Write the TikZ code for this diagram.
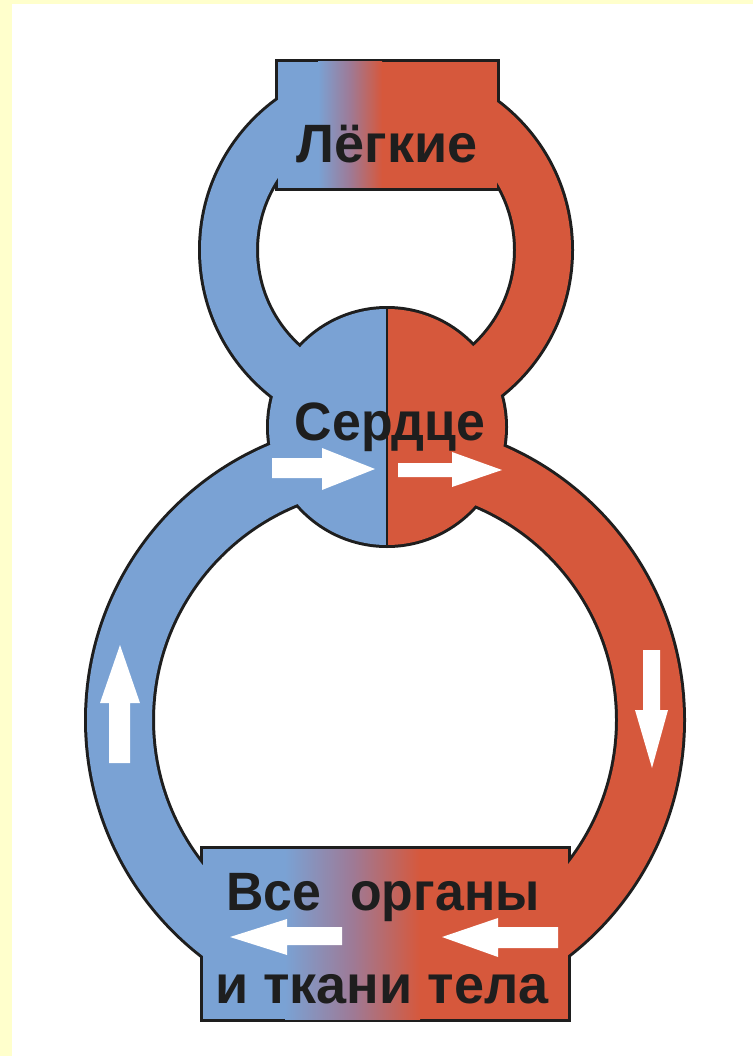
\documentclass[tikz,border=0pt]{standalone}
\usepackage{fontspec}
\setmainfont{Liberation Sans}
\definecolor{bl}{RGB}{122,162,212}
\definecolor{rd}{RGB}{214,88,60}
\definecolor{midc}{RGB}{158,122,150}
\definecolor{yel}{RGB}{255,255,204}
\definecolor{ink}{RGB}{30,30,30}
\tikzset{
  outline/.style={draw=ink, line width=6pt},
  lbl/.style={anchor=base, inner sep=0pt, text=ink, font=\bfseries\fontsize{54}{60}\selectfont},
  flowarrow/.style={fill=white, draw=none}
}
\begin{document}
\begin{tikzpicture}[x=1pt,y=-1pt]
\useasboundingbox (0,0) rectangle (753,1056);
\fill[white] (0,0) rectangle (753,1056);
\fill[yel] (0,0) rectangle (753,4);
\fill[yel] (0,0) rectangle (12,1056);

% outlines (outer halves remain visible)
\draw[outline] (278,62) rectangle (497,188);
\draw[outline] (386,250) circle[radius=185pt];
\draw[outline] (386,250) circle[radius=130pt];
\draw[outline] (387,427) circle[radius=118pt];
\draw[outline] (385,720) circle[radius=298pt];
\draw[outline] (385,720) circle[radius=233pt];
\draw[outline] (203,849) rectangle (568,1019);

% fills: left half blue
\begin{scope}
  \clip (0,0) rectangle (387,1056);
  \fill[bl, even odd rule] (386,250) circle[radius=185pt] (386,250) circle[radius=130pt];
  \fill[bl, even odd rule] (385,720) circle[radius=298pt] (385,720) circle[radius=233pt];
  \fill[bl] (387,427) circle[radius=118pt];
\end{scope}
% right half red
\begin{scope}
  \clip (387,0) rectangle (753,1056);
  \fill[rd, even odd rule] (386,250) circle[radius=185pt] (386,250) circle[radius=130pt];
  \fill[rd, even odd rule] (385,720) circle[radius=298pt] (385,720) circle[radius=233pt];
  \fill[rd] (387,427) circle[radius=118pt];
\end{scope}

% lungs box with gradient
\fill[bl] (278,62) rectangle (318.5,188);
\fill[rd] (381.5,62) rectangle (497,188);
\shade[left color=bl, right color=rd, middle color=midc] (318,62) rectangle (382,188);

% organs box with gradient
\fill[bl] (203,849) rectangle (285.5,1019);
\fill[rd] (419.5,849) rectangle (568,1019);
\shade[left color=bl, right color=rd, middle color=midc] (285,849) rectangle (420,1019);

% heart divider
\draw[ink, line width=2pt] (387,309) -- (387,545);

% arrows
\path[flowarrow] (272,458) -- (322,458) -- (322,448) -- (375,469) -- (322,490) -- (322,478) -- (272,478) -- cycle;
\path[flowarrow] (398,463) -- (452,463) -- (452,452) -- (502,470) -- (452,487) -- (452,477) -- (398,477) -- cycle;
\path[flowarrow] (109,763) -- (109,703) -- (100,703) -- (120,645) -- (140,703) -- (130,703) -- (130,763) -- cycle;
\path[flowarrow] (643,650) -- (660,650) -- (660,710) -- (668,710) -- (652,768) -- (635,710) -- (643,710) -- cycle;
\path[flowarrow] (230,937) -- (287,919) -- (287,927) -- (342,927) -- (342,945) -- (287,945) -- (287,955) -- cycle;
\path[flowarrow] (442,937) -- (498,918) -- (498,927) -- (558,927) -- (558,948) -- (498,948) -- (498,957) -- cycle;

% labels
\node[lbl] (lungs) at (387,163) {Лёгкие};
\node[lbl] (heart) at (390,440) {\scalebox{0.96}[1]{Сердце}};
\node[lbl] (organs1) at (383,910) {\scalebox{0.96}[1]{Все\ \ органы}};
\node[lbl] (organs2) at (382,1003) {и ткани тела};
\end{tikzpicture}
\end{document}
